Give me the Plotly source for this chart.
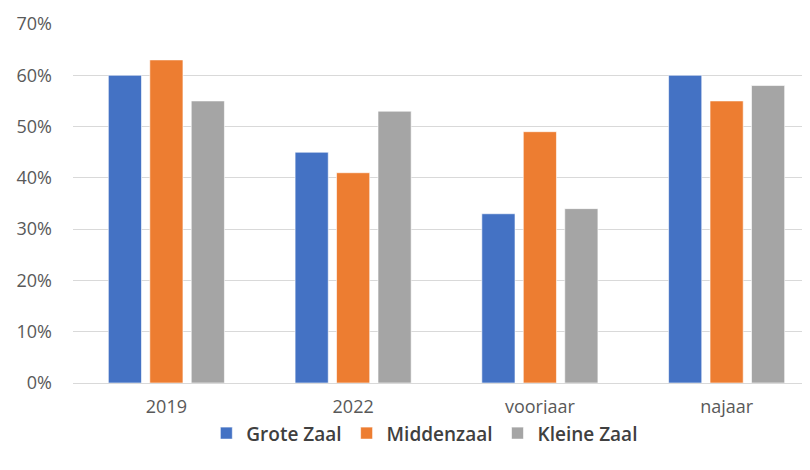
import plotly.graph_objects as go

categories = ["2019", "2022", "voorjaar", "najaar"]
grote_zaal = [0.60, 0.45, 0.33, 0.60]
middenzaal = [0.63, 0.41, 0.49, 0.55]
kleine_zaal = [0.55, 0.53, 0.34, 0.58]

series = [("Grote Zaal", grote_zaal, "#4472C4"),
          ("Middenzaal", middenzaal, "#ED7D31"),
          ("Kleine Zaal", kleine_zaal, "#A5A5A5")]

fig = go.Figure()
for name, vals, col in series:
    fig.add_trace(go.Bar(x=categories, y=vals, name=name, marker_color=col,
                         marker_line=dict(color="rgba(255,255,255,0.6)", width=1)))

fig.update_layout(
    width=830, height=470,
    margin=dict(l=65, r=18, t=16, b=95, autoexpand=False),
    plot_bgcolor="white", paper_bgcolor="white",
    barmode="group", bargap=0.334, bargroupgap=0.2,
    font=dict(family="Open Sans, sans-serif", color="#595959", size=18),
    xaxis=dict(showgrid=False, showline=True, linecolor="#d9d9d9", linewidth=1,
               ticks="", automargin=False, ticklabelstandoff=7,
               tickfont=dict(size=18, color="#595959")),
    yaxis=dict(range=[0, 0.7], dtick=0.1, tickformat=".0%", showgrid=True,
               gridcolor="#d9d9d9", gridwidth=1, zeroline=False, ticks="",
               automargin=False, ticklabelstandoff=20,
               tickfont=dict(size=18, color="#595959")),
    legend=dict(orientation="h", x=0.471, xanchor="center", y=-0.14, yanchor="middle",
                font=dict(size=19, color="#404040", family="Open Sans, sans-serif", weight=600),
                itemwidth=30, traceorder="normal"),
    showlegend=True,
)
fig.write_html("out.html")
